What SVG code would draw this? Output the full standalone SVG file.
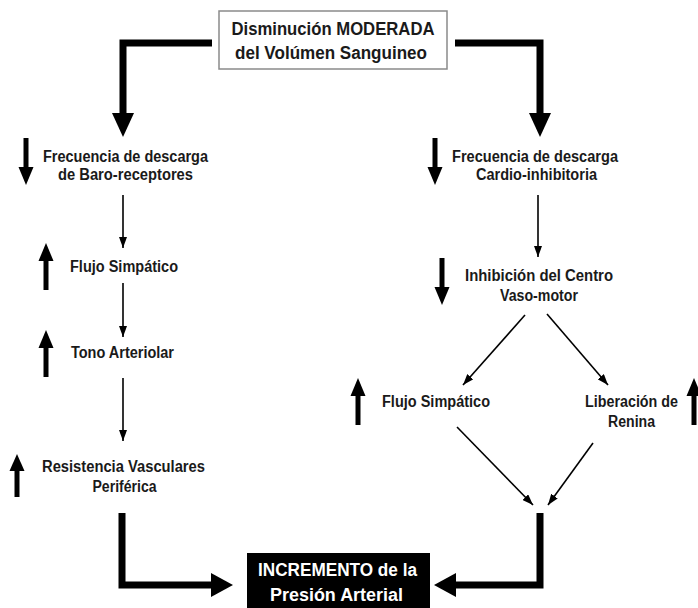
<svg xmlns="http://www.w3.org/2000/svg" width="698" height="608" viewBox="0 0 698 608">
<style>
  .t{font-family:"Liberation Sans",Arial,sans-serif;font-weight:bold;font-size:16px;fill:#1a1a1a;text-anchor:middle}
  .tb{font-family:"Liberation Sans",Arial,sans-serif;font-weight:bold;font-size:18px;fill:#1a1a1a;text-anchor:middle}
  .tw{font-family:"Liberation Sans",Arial,sans-serif;font-weight:bold;font-size:18px;fill:#ffffff;text-anchor:middle}
  .thick{fill:none;stroke:#000;stroke-width:7;stroke-linejoin:miter}
  .thin{fill:none;stroke:#000;stroke-width:1.6;marker-end:url(#ah)}
  .sh{fill:none;stroke:#000;stroke-width:5}
  .hd{fill:#000}
</style>
<defs>
  <marker id="ah" markerUnits="userSpaceOnUse" markerWidth="11" markerHeight="8" refX="11" refY="4" orient="auto">
    <path d="M0,0 L11,4 L0,8 z" fill="#000"/>
  </marker>
</defs>
<rect width="698" height="608" fill="#ffffff"/>

<g id="connectors">
  <path class="thick" d="M212,43 H123 V114"/>
  <polygon class="hd" points="112,113 134,113 123,137"/>
  <path class="thick" d="M455,43 H540 V114"/>
  <polygon class="hd" points="529,113 551,113 540,137"/>
  <path class="thick" d="M122,513 V585 H212"/>
  <polygon class="hd" points="211,573 211,597 233,585"/>
  <path class="thick" d="M540,513 V585 H455"/>
  <polygon class="hd" points="456,573 456,597 434,585"/>
  <line class="thin" x1="123" y1="195" x2="123" y2="248"/>
  <line class="thin" x1="123" y1="283" x2="123" y2="337"/>
  <line class="thin" x1="123" y1="378" x2="123" y2="441"/>
  <line class="thin" x1="538" y1="195" x2="538" y2="257"/>
  <line class="thin" x1="525" y1="315" x2="463" y2="385"/>
  <line class="thin" x1="547" y1="314" x2="608" y2="385"/>
  <line class="thin" x1="457" y1="427" x2="533" y2="505"/>
  <line class="thin" x1="593" y1="443" x2="548" y2="505"/>
</g>

<g id="top">
  <rect x="219" y="11" width="228" height="58" fill="#ffffff" stroke="#8a8a8a" stroke-width="1.5"/>
  <text class="tb" x="333" y="35" textLength="203" lengthAdjust="spacingAndGlyphs">Disminución MODERADA</text>
  <text class="tb" x="331" y="59" textLength="192" lengthAdjust="spacingAndGlyphs">del Volúmen Sanguineo</text>
</g>

<g id="baro">
  <line class="sh" x1="26" y1="138" x2="26" y2="168"/>
  <polygon class="hd" points="18.5,167 33.5,167 26,185"/>
  <text class="t" x="125.5" y="162" textLength="165" lengthAdjust="spacingAndGlyphs">Frecuencia de descarga</text>
  <text class="t" x="125.5" y="180" textLength="135" lengthAdjust="spacingAndGlyphs">de Baro-receptores</text>
</g>

<g id="flujo-izq">
  <line class="sh" x1="46" y1="260" x2="46" y2="290"/>
  <polygon class="hd" points="38.5,261 53.5,261 46,243"/>
  <text class="t" x="124" y="272" textLength="108" lengthAdjust="spacingAndGlyphs">Flujo Simpático</text>
</g>

<g id="tono">
  <line class="sh" x1="46" y1="347" x2="46" y2="377"/>
  <polygon class="hd" points="38.5,348 53.5,348 46,330"/>
  <text class="t" x="122.5" y="358" textLength="103" lengthAdjust="spacingAndGlyphs">Tono Arteriolar</text>
</g>

<g id="resistencia">
  <line class="sh" x1="17" y1="470" x2="17" y2="497"/>
  <polygon class="hd" points="9.5,471 24.5,471 17,454"/>
  <text class="t" x="123.5" y="472" textLength="163" lengthAdjust="spacingAndGlyphs">Resistencia Vasculares</text>
  <text class="t" x="124.5" y="492" textLength="64" lengthAdjust="spacingAndGlyphs">Periférica</text>
</g>

<g id="cardio">
  <line class="sh" x1="435" y1="138" x2="435" y2="168"/>
  <polygon class="hd" points="427.5,167 442.5,167 435,185"/>
  <text class="t" x="535" y="162" textLength="166" lengthAdjust="spacingAndGlyphs">Frecuencia de descarga</text>
  <text class="t" x="536.5" y="180" textLength="121" lengthAdjust="spacingAndGlyphs">Cardio-inhibitoria</text>
</g>

<g id="inhibicion">
  <line class="sh" x1="442" y1="258" x2="442" y2="288"/>
  <polygon class="hd" points="434.5,287 449.5,287 442,305"/>
  <text class="t" x="539" y="281" textLength="148" lengthAdjust="spacingAndGlyphs">Inhibición del Centro</text>
  <text class="t" x="539" y="301" textLength="78" lengthAdjust="spacingAndGlyphs">Vaso-motor</text>
</g>

<g id="flujo-der">
  <line class="sh" x1="358" y1="395" x2="358" y2="425"/>
  <polygon class="hd" points="350.5,396 365.5,396 358,378"/>
  <text class="t" x="436" y="407" textLength="108" lengthAdjust="spacingAndGlyphs">Flujo Simpático</text>
</g>

<g id="renina">
  <line class="sh" x1="694" y1="395" x2="694" y2="425"/>
  <polygon class="hd" points="686.5,396 701.5,396 694,378"/>
  <text class="t" x="631.5" y="407" textLength="93" lengthAdjust="spacingAndGlyphs">Liberación de</text>
  <text class="t" x="631.5" y="427" textLength="47" lengthAdjust="spacingAndGlyphs">Renina</text>
</g>

<g id="incremento">
  <rect x="247" y="553" width="183" height="60" fill="#000000"/>
  <text class="tw" x="337.5" y="576" textLength="159" lengthAdjust="spacingAndGlyphs">INCREMENTO de la</text>
  <text class="tw" x="336.5" y="601" textLength="133" lengthAdjust="spacingAndGlyphs">Presión Arterial</text>
</g>
</svg>
